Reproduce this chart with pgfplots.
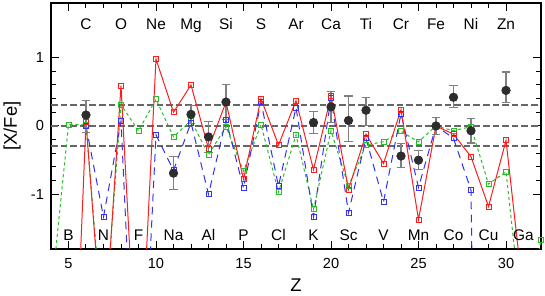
\documentclass[border=0pt]{standalone}
\usepackage{pgfplots}
\pgfplotsset{compat=1.18}
\usepackage{pgfplotstable}
\usepackage{fontspec}
\setmainfont{Liberation Sans}
\definecolor{mred}{RGB}{250,30,30}
\definecolor{mblue}{RGB}{50,50,240}
\definecolor{mgreen}{RGB}{40,190,40}
\definecolor{dotc}{RGB}{45,45,45}
\tikzset{elem/.style={anchor=base, inner sep=0pt, font=\fontsize{7.7}{8}\selectfont}}

\pgfplotstableread{
Z v
5 -6.1
6 0.06
7 -3.3
8 0.59
9 -4.2
10 0.98
11 0.20
12 0.60
13 -0.33
14 0.35
15 -0.78
16 0.40
17 -0.28
18 0.37
19 -0.64
20 0.44
21 -0.93
22 -0.12
23 -0.55
24 0.24
25 -1.37
26 0.0
27 -0.12
28 -0.45
29 -1.18
30 -0.21
31 -2.5
}\redtab

\pgfplotstableread{
Z v
6 0.0
7 -1.33
8 0.07
9 -5.4
10 -0.13
11 -0.65
12 0.05
13 -1.0
14 0.09
15 -0.91
16 0.35
17 -0.88
18 0.27
19 -1.33
20 0.41
21 -1.27
22 -0.18
23 -1.11
24 0.18
25 -0.90
26 0.0
27 -0.18
28 -0.94
29 -20
}\bluetab

\pgfplotstableread{
Z v
4 -2.5
5 0.02
6 0.02
7 -3.1
8 0.31
9 -0.07
10 0.39
11 -0.16
12 0.08
13 -0.42
14 -0.01
15 -0.66
16 0.02
17 -0.97
18 -0.13
19 -1.22
20 -0.07
21 -0.88
22 -0.28
23 -0.23
24 -0.08
25 -0.23
26 0.0
27 -0.07
28 -0.01
29 -0.85
30 -0.67
31 -3.0
32 -1.67
}\greentab

\pgfplotstableread{
Z v ep em
6 0.16 0.21 0.25
11 -0.69 0.24 0.24
12 0.17 0.13 0.13
13 -0.16 0.23 0.23
14 0.35 0.26 0.26
19 0.05 0.16 0.16
20 0.28 0.23 0.23
21 0.08 0.36 0.31
22 0.23 0.19 0.22
24 -0.44 0.18 0.17
25 -0.50 0.14 0.14
26 0.0 0.12 0.12
27 0.42 0.17 0.15
28 -0.07 0.18 0.18
30 0.52 0.27 0.18
}\obstab

\begin{document}
\begin{tikzpicture}
\begin{axis}[
  scale only axis,
  width=245pt, height=123pt,
  xmin=4, xmax=32, ymin=-1.8, ymax=1.8,
  xtick={5,10,15,20,25,30},
  minor x tick num=4,
  ytick={-1,0,1},
  minor y tick num=4,
  tick align=inside,
  major tick length=4pt,
  minor tick length=2.5pt,
  tick style={black, line width=0.5pt},
  axis line style={line width=0.6pt},
  /pgf/number format/assume math mode=true,
  tick label style={font=\fontsize{7.3}{8}\selectfont},
  xticklabel style={yshift=-1pt},
  xlabel={Z},
  ylabel={[X/Fe]},
  label style={font=\fontsize{9.2}{10}\selectfont},
  xlabel style={at={(axis description cs:0.5,0)}, anchor=center, yshift=-18pt},
  ylabel style={at={(axis description cs:0,0.5)}, anchor=center, yshift=19.5pt},
  clip=true,
]
% reference lines
\addplot[black!60, line width=1pt, dash pattern=on 3.3pt off 1.5pt] coordinates {(4,0.3) (32,0.3)};
\addplot[black!60, line width=1pt, dash pattern=on 3.3pt off 1.5pt] coordinates {(4,0) (32,0)};
\addplot[black!60, line width=1pt, dash pattern=on 3.3pt off 1.5pt] coordinates {(4,-0.3) (32,-0.3)};
% models
\addplot[mgreen, line width=0.5pt, dash pattern=on 1.6pt off 1.4pt, mark=square, mark size=1.25pt, mark options={solid, line width=0.45pt}] table[x=Z,y=v] {\greentab};
\addplot[mblue, line width=0.5pt, dash pattern=on 3.8pt off 2.8pt, mark=square, mark size=1.25pt, mark options={solid, line width=0.45pt}] table[x=Z,y=v] {\bluetab};
\addplot[mred, line width=0.5pt, mark=square, mark size=1.25pt, mark options={solid, line width=0.45pt}] table[x=Z,y=v] {\redtab};
% observations
\addplot[only marks, mark=*, mark size=2.1pt, dotc, mark options={fill=dotc, draw=dotc},
  error bars/.cd, y dir=both, y explicit,
  error bar style={black!50, line width=0.6pt},
  error mark options={rotate=90, mark size=2.2pt, black!50, line width=0.6pt}]
  table[x=Z, y=v, y error plus=ep, y error minus=em] {\obstab};
% element labels
\node[elem] at (axis cs:6,1.405) {C};
\node[elem] at (axis cs:8,1.405) {O};
\node[elem] at (axis cs:10,1.405) {Ne};
\node[elem] at (axis cs:12,1.405) {Mg};
\node[elem] at (axis cs:14,1.405) {Si};
\node[elem] at (axis cs:16,1.405) {S};
\node[elem] at (axis cs:18,1.405) {Ar};
\node[elem] at (axis cs:20,1.405) {Ca};
\node[elem] at (axis cs:22,1.405) {Ti};
\node[elem] at (axis cs:24,1.405) {Cr};
\node[elem] at (axis cs:26,1.405) {Fe};
\node[elem] at (axis cs:28,1.405) {Ni};
\node[elem] at (axis cs:30,1.405) {Zn};
\node[elem] at (axis cs:5,-1.67) {B};
\node[elem] at (axis cs:7,-1.67) {N};
\node[elem] at (axis cs:9,-1.67) {F};
\node[elem] at (axis cs:11,-1.67) {Na};
\node[elem] at (axis cs:13,-1.67) {Al};
\node[elem] at (axis cs:15,-1.67) {P};
\node[elem] at (axis cs:17,-1.67) {Cl};
\node[elem] at (axis cs:19,-1.67) {K};
\node[elem] at (axis cs:21,-1.67) {Sc};
\node[elem] at (axis cs:23,-1.67) {V};
\node[elem] at (axis cs:25,-1.67) {Mn};
\node[elem] at (axis cs:27,-1.67) {Co};
\node[elem] at (axis cs:29,-1.67) {Cu};
\node[elem] at (axis cs:31,-1.67) {Ga};
\end{axis}
\pgfresetboundingbox
\path[use as bounding box] ([xshift=-25.5pt,yshift=-23.5pt]current axis.south west) rectangle ([xshift=2pt,yshift=1.5pt]current axis.north east);
\end{tikzpicture}
\end{document}
